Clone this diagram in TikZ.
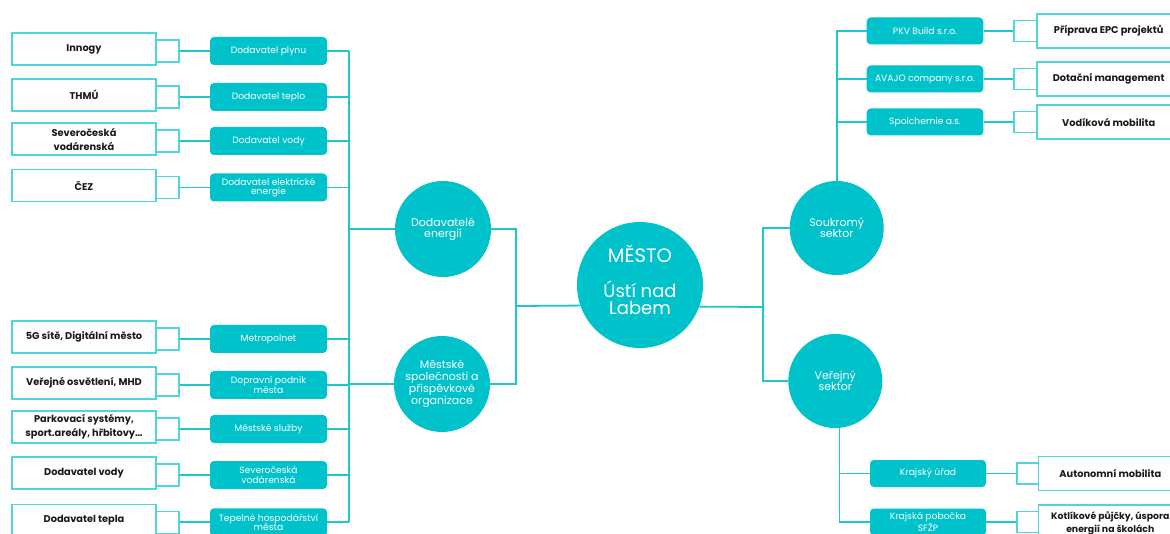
\documentclass[tikz,border=0pt]{standalone}
\usepackage{fontspec}
\setmainfont{Poppins}
\usetikzlibrary{calc}
\definecolor{tealfill}{HTML}{00C2CB}
\definecolor{linecol}{HTML}{1EC6CF}
\definecolor{boxline}{HTML}{4FD6DD}
\definecolor{txtdark}{HTML}{1A1A1A}
\tikzset{
  outbox/.style={draw=boxline, line width=1.6pt, fill=white, minimum width=144pt, minimum height=32pt, inner sep=0pt, align=center, text=txtdark, font=\fontsize{9.8}{14}\selectfont\bfseries},
  outboxr/.style={outbox, minimum height=34pt},
  tealbox/.style={fill=tealfill, rounded corners=4pt, minimum width=117pt, minimum height=28pt, inner sep=0pt, align=center, text=white, font=\fontsize{9.2}{9.4}\selectfont},
  circ/.style={circle, fill=tealfill, inner sep=0pt, align=center, text=white, font=\fontsize{11}{11.2}\selectfont},
  conn/.style={draw=linecol, line width=1.8pt},
  brk/.style={draw=boxline, line width=1.6pt},
  smallbold/.style={font=\fontsize{9.3}{13.4}\selectfont\bfseries},
}
\newcommand\leftrow[4]{%
  \node[outbox] (b#1) at (84,#2-2) {#3};
  \node[tealbox] (t#1) at (268.5,#2) {#4};
  \coordinate (k#1) at (179,#2);
  \coordinate (ku#1) at (179,#2-11);
  \coordinate (kd#1) at (179,#2+11);
  \draw[conn] (t#1.west) -- (k#1);
  \draw[brk] (b#1.east |- ku#1) -- (ku#1) -- (kd#1) -- (b#1.east |- kd#1);
  \draw[conn] (t#1.east) -- (t#1.east -| vl);
}
\newcommand\rightrow[7]{%
  \node[outboxr, #7] (b#1) at (#5,#2) {#6};
  \coordinate (k#1) at (#4,#2);
  \coordinate (ku#1) at (#4,#2-10.5);
  \coordinate (kd#1) at (#4,#2+10.5);
  \draw[conn] (t#1.east) -- (k#1);
  \draw[brk] (b#1.west |- ku#1) -- (ku#1) -- (kd#1) -- (b#1.west |- kd#1);
}
\begin{document}
\begin{tikzpicture}[x=1pt,y=-1pt]
\useasboundingbox (0,0) rectangle (1170,534);
\clip (0,0) rectangle (1170,534);
\fill[white] (0,0) rectangle (1170,534);

% central and secondary circles
\node[circ, minimum size=126pt, text depth=10pt, font=\fontsize{18}{16.7}\selectfont] (mesto) at (640,285) {{\fontsize{19.5}{19.5}\selectfont MĚSTO}\\[17pt]Ústí nad\\Labem};
\node[circ, minimum size=96pt] (dod) at (443,229) {Dodavatelé\\energií};
\node[circ, minimum size=96pt] (mes) at (442,384) {Městské\\společnosti a\\přispěvkové\\organizace};
\node[circ, minimum size=94pt] (souk) at (836.7,228) {Soukromý\\sektor};
\node[circ, minimum size=94pt] (ver) at (835.3,381) {Veřejný\\sektor};

% left vertical spine
\coordinate (vl) at (349,51);
\coordinate (vlb) at (349,522.3);
\draw[conn] (vl) -- (vlb);

\leftrow{1}{51}{Innogy}{Dodavatel plynu}
\leftrow{2}{97}{THMÚ}{Dodavatel teplo}
\leftrow{3}{141}{Severočeská\\vodárenská}{Dodavatel vody}
\leftrow{4}{187.5}{ČEZ}{Dodavatel elektrické\\energie}
\leftrow{5}{339}{5G sítě, Digitální město}{Metropolnet}
\leftrow{6}{385}{Veřejné osvětlení, MHD}{Dopravní podnik\\města}
\leftrow{7}{429}{Parkovací systémy,\\sport.areály, hřbitovy…}{Městské služby}
\leftrow{8}{475}{Dodavatel vody}{Severočeská\\vodárenská}
\leftrow{9}{522.3}{Dodavatel tepla}{Tepelné hospodářství\\města}

\draw[conn] (dod.west) -- (dod.west -| vl);
\draw[conn] (mes.west) -- (mes.west -| vl);

% center joins
\coordinate (jl) at (515.7,306);
\coordinate (jr) at (763,307);
\draw[conn] (dod.east) -| (jl) |- (mes.east);
\draw[conn] (jl) -- (mesto.199.5);
\draw[conn] (mesto.340.5) -- (jr);
\draw[conn] (souk.west) -| (jr) |- (ver.west);

% upper right
\node[tealbox, minimum width=116.6pt, minimum height=27pt] (t10) at (925,31) {PKV Build s.r.o.};
\node[tealbox, minimum width=116.6pt, minimum height=27pt] (t11) at (925,79) {AVAJO company s.r.o.};
\node[tealbox, minimum width=116.6pt, minimum height=27pt] (t12) at (925,122) {Spolchemie a.s.};
\draw[conn] (souk.north) |- (t10.west);
\draw[conn] (t11.west) -- (t11.west -| souk.north);
\draw[conn] (t12.west) -- (t12.west -| souk.north);
\rightrow{10}{31}{925}{1014}{1108.7}{Příprava EPC projektů}{}
\rightrow{11}{79}{925}{1014}{1108.7}{Dotační management}{}
\rightrow{12}{122}{925}{1014}{1108.7}{Vodíková mobilita}{}

% lower right
\node[tealbox, minimum width=116pt, minimum height=27pt] (t13) at (928,473.5) {Krajský úřad};
\node[tealbox, minimum width=116pt, minimum height=27pt] (t14) at (928,522) {Krajská pobočka\\SFŽP};
\draw[conn] (ver.275) |- (t14.west);
\draw[conn] (t13.west) -- (t13.west -| ver.275);
\rightrow{13}{473.5}{928}{1016.7}{1110.3}{Autonomní mobilita}{}
\rightrow{14}{522}{928}{1016.7}{1110.3}{Kotlíkové půjčky, úspora\\energií na školách}{smallbold, text depth=0pt, minimum height=34pt}
\end{tikzpicture}
\end{document}
